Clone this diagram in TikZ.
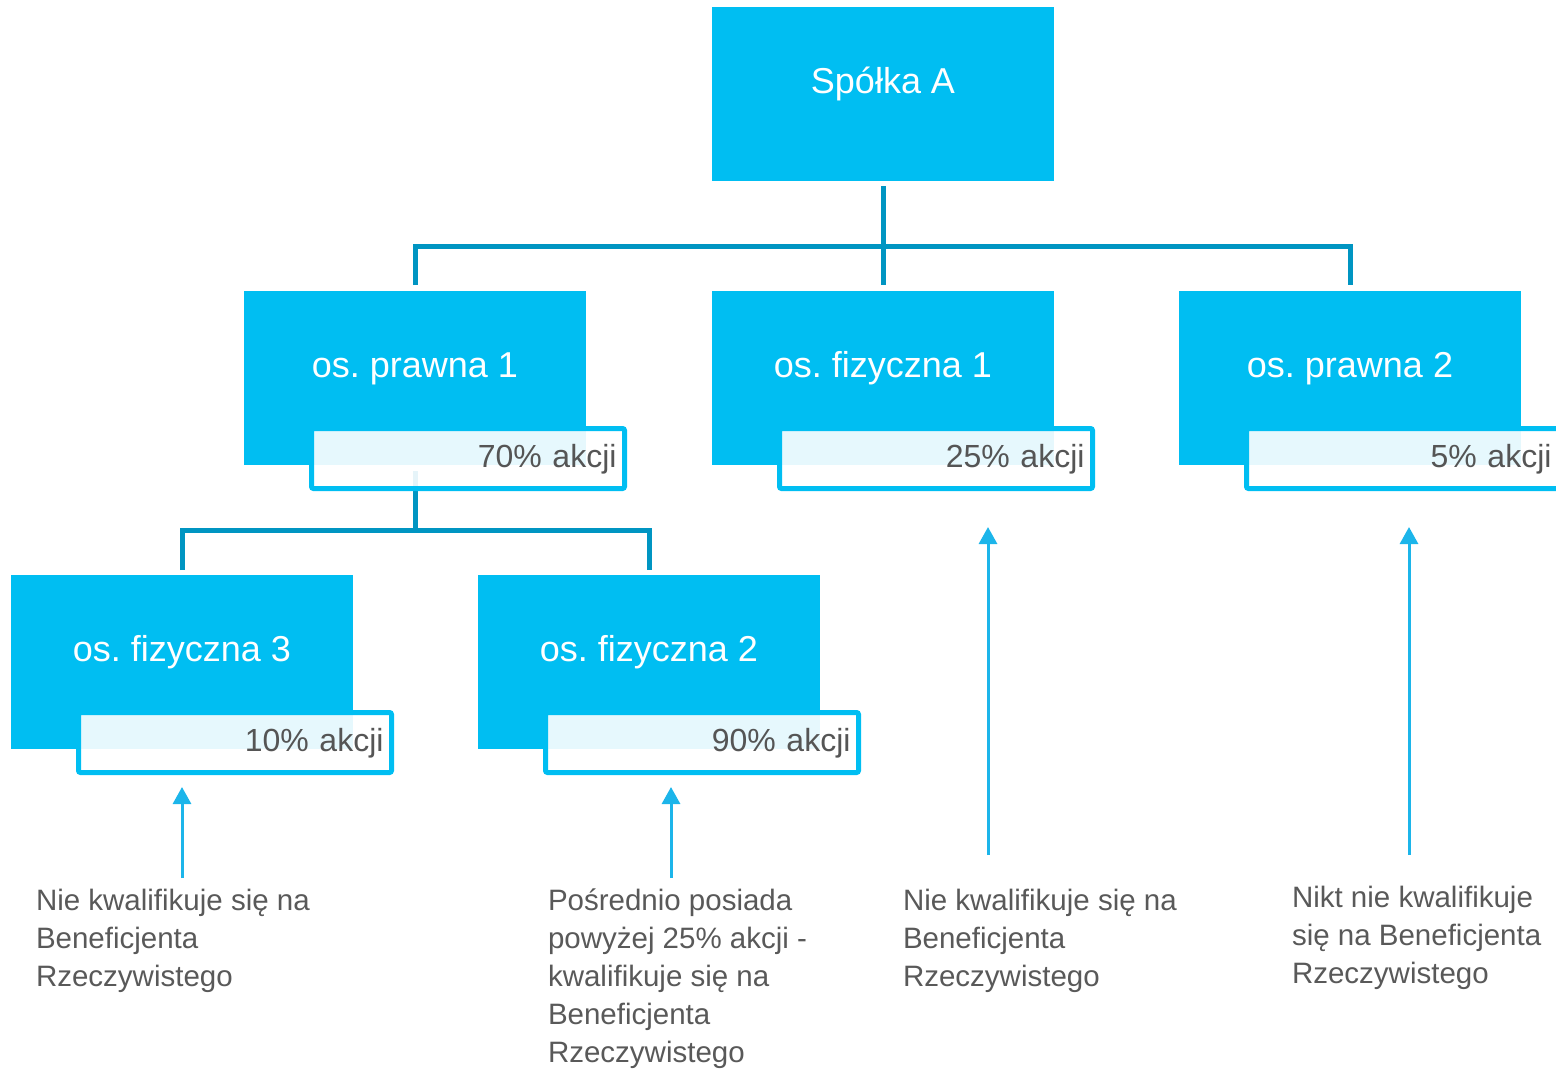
\documentclass[tikz,border=0pt]{standalone}
\usepackage{fontspec}
\setmainfont{Liberation Sans}
\usetikzlibrary{calc,arrows.meta}
\frenchspacing
\definecolor{boxblue}{RGB}{0,190,242}
\definecolor{connblue}{RGB}{0,149,194}
\definecolor{arrblue}{RGB}{28,181,234}
\definecolor{textgray}{RGB}{89,89,89}
\definecolor{pctgray}{RGB}{85,85,85}
\tikzset{
  box/.style={fill=boxblue, minimum width=342pt, minimum height=174pt, inner sep=0pt, outer sep=0pt,
    anchor=north west, text=white, font=\fontsize{36}{40}\selectfont, text height=26pt, text depth=28pt},
  pct/.style={draw=boxblue, line width=5pt, fill=white, fill opacity=0.9, text opacity=1,
    minimum width=313pt, minimum height=60pt, text width=297pt, align=right, inner xsep=8pt, inner ysep=0pt,
    anchor=north west, text=pctgray, font=\fontsize{32}{36}\selectfont, text height=24pt, text depth=7pt,
    rounded corners=2pt},
  conn/.style={draw=connblue, line width=5pt},
  arr/.style={draw=arrblue, line width=3pt, -{Triangle[width=18pt,length=17pt]}},
  note/.style={anchor=north west, inner sep=0pt, outer sep=0pt, align=left, text=textgray,
    font=\fontsize{29.5}{38}\selectfont}
}
\begin{document}
\begin{tikzpicture}[x=1pt,y=-1pt]
\useasboundingbox (0,0) rectangle (1556,1069);
% boxes
\node[box] (a) at (712,7) {Spółka A};
\node[box] (p1) at (244,291) {os. prawna 1};
\node[box] (f1) at (712,291) {os. fizyczna 1};
\node[box] (p2) at (1179,291) {os. prawna 2};
\node[box] (f3) at (11,575) {os. fizyczna 3};
\node[box] (f2) at (478,575) {os. fizyczna 2};
% connectors
\coordinate (bus1) at (883,246);
\coordinate (bus2) at (415,530);
\draw[conn] ($(p1.north)+(0,-6)$) -- (p1.north |- bus1) -- (p2.north |- bus1) -- ($(p2.north)+(0,-6)$);
\draw[conn] ($(a.south)+(0,5)$) -- ($(f1.north)+(0,-6)$);
\draw[conn] ($(p1.south)+(0,6)$) -- (bus2);
\draw[conn] ($(f3.north)+(0,-5)$) -- (f3.north |- bus2) -- (f2.north |- bus2) -- ($(f2.north)+(0,-5)$);
% percentage boxes
\node[pct] (pc1) at ($(p1.north west)+(65,135)$) {70\% akcji};
\node[pct] (pc2) at ($(f1.north west)+(65,135)$) {25\% akcji};
\node[pct] (pc3) at ($(p2.north west)+(65,135)$) {5\% akcji};
\node[pct] (pc4) at ($(f3.north west)+(65,135)$) {10\% akcji};
\node[pct] (pc5) at ($(f2.north west)+(65,135)$) {90\% akcji};
% notes
\node[note] (t1) at (36,887) {\rule{0pt}{23pt}Nie kwalifikuje się na\\Beneficjenta\\Rzeczywistego};
\node[note] (t2) at (548,887) {\rule{0pt}{23pt}Pośrednio posiada\\powyżej 25\% akcji -\\kwalifikuje się na\\Beneficjenta\\Rzeczywistego};
\node[note] (t3) at (903,887) {\rule{0pt}{23pt}Nie kwalifikuje się na\\Beneficjenta\\Rzeczywistego};
\node[note] (t4) at (1292,884) {\rule{0pt}{23pt}Nikt nie kwalifikuje\\się na Beneficjenta\\Rzeczywistego};
% arrows
\coordinate (s1) at ($(t1.north west)+(146,-9)$);
\coordinate (s2) at ($(t2.north west)+(123,-9)$);
\coordinate (s3) at ($(t3.north west)+(85,-32)$);
\coordinate (s4) at ($(t4.north west)+(117,-29)$);
\draw[arr] (s1) -- ($(s1 |- pc4.south)+(0,12)$);
\draw[arr] (s2) -- ($(s2 |- pc5.south)+(0,12)$);
\draw[arr] (s3) -- ($(s3 |- pc2.south)+(0,36)$);
\draw[arr] (s4) -- ($(s4 |- pc3.south)+(0,36)$);
\end{tikzpicture}
\end{document}
